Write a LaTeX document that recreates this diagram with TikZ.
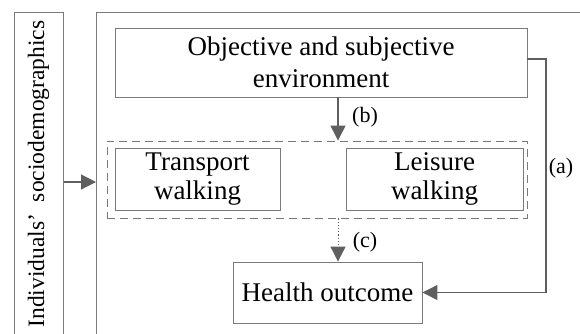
\documentclass[tikz,border=0pt]{standalone}
\usepackage{fontspec}
\setmainfont{Liberation Serif}
\usetikzlibrary{arrows.meta}
\definecolor{boxgray}{HTML}{7A7A7A}
\definecolor{arrgray}{HTML}{5F5F5F}
\tikzset{
  box/.style={draw=boxgray, line width=0.9pt, inner sep=0pt, align=center,
              font=\fontsize{27}{30}\selectfont},
  arr/.style={draw=arrgray, line width=1.2pt, -{Triangle[length=15pt,width=15pt]}},
  lbl/.style={inner sep=0pt, font=\fontsize{22}{24}\selectfont},
}
\begin{document}
\begin{tikzpicture}[x=1pt,y=-1pt]
\useasboundingbox (0,0) rectangle (580,333);
% outer frames (run past the page edge)
\node[box, anchor=north west, minimum width=49pt, minimum height=340pt] (lbox) at (14,12) {};
\node[inner sep=0pt, rotate=90, font=\fontsize{23.5}{26}\selectfont] (ltext) at (38.5,174) {Individuals’\hspace{0.5em}sociodemographics};
\node[box, anchor=north west, minimum width=520pt, minimum height=340pt] (big) at (96,12) {};
% inner boxes
\node[box, minimum width=412pt, minimum height=69pt, font=\fontsize{27}{32}\selectfont] (env) at (321,62.5) {Objective and subjective\\environment};
\node[draw=boxgray, dashed, dash pattern=on 8pt off 5pt, line width=0.9pt, minimum width=420pt, minimum height=77pt, inner sep=0pt] (grp) at (317,179.5) {};
\node[box, minimum width=165pt, minimum height=62pt, font=\fontsize{27}{29}\selectfont] (trans) at (197.5,179) {Transport\\walking};
\node[box, minimum width=177pt, minimum height=62pt, font=\fontsize{27}{29}\selectfont] (leis) at (434.5,179) {Leisure\\walking};
\node[box, minimum width=189pt, minimum height=61pt] (health) at (327.5,292.5) {Health outcome};
% helper coordinates
\coordinate (bx) at (338,0);
\coordinate (ax) at (546,0);
% connectors
\draw[arr] (lbox.east |- 0,182) -- (big.west |- 0,182);
\draw[arr] (env.south -| bx) -- (grp.north -| bx);
\draw[arr, dotted, line width=1pt] (grp.south -| bx) -- (health.north -| bx);
\draw[arr] (env.east |- 0,59) -- (ax |- 0,59) -- (ax |- health.east) -- (health.east);
% labels
\node[lbl] (lb) at (365,117) {(b)};
\node[lbl] (lc) at (365,242) {(c)};
\node[lbl] (la) at (561,168) {(a)};
\end{tikzpicture}
\end{document}
